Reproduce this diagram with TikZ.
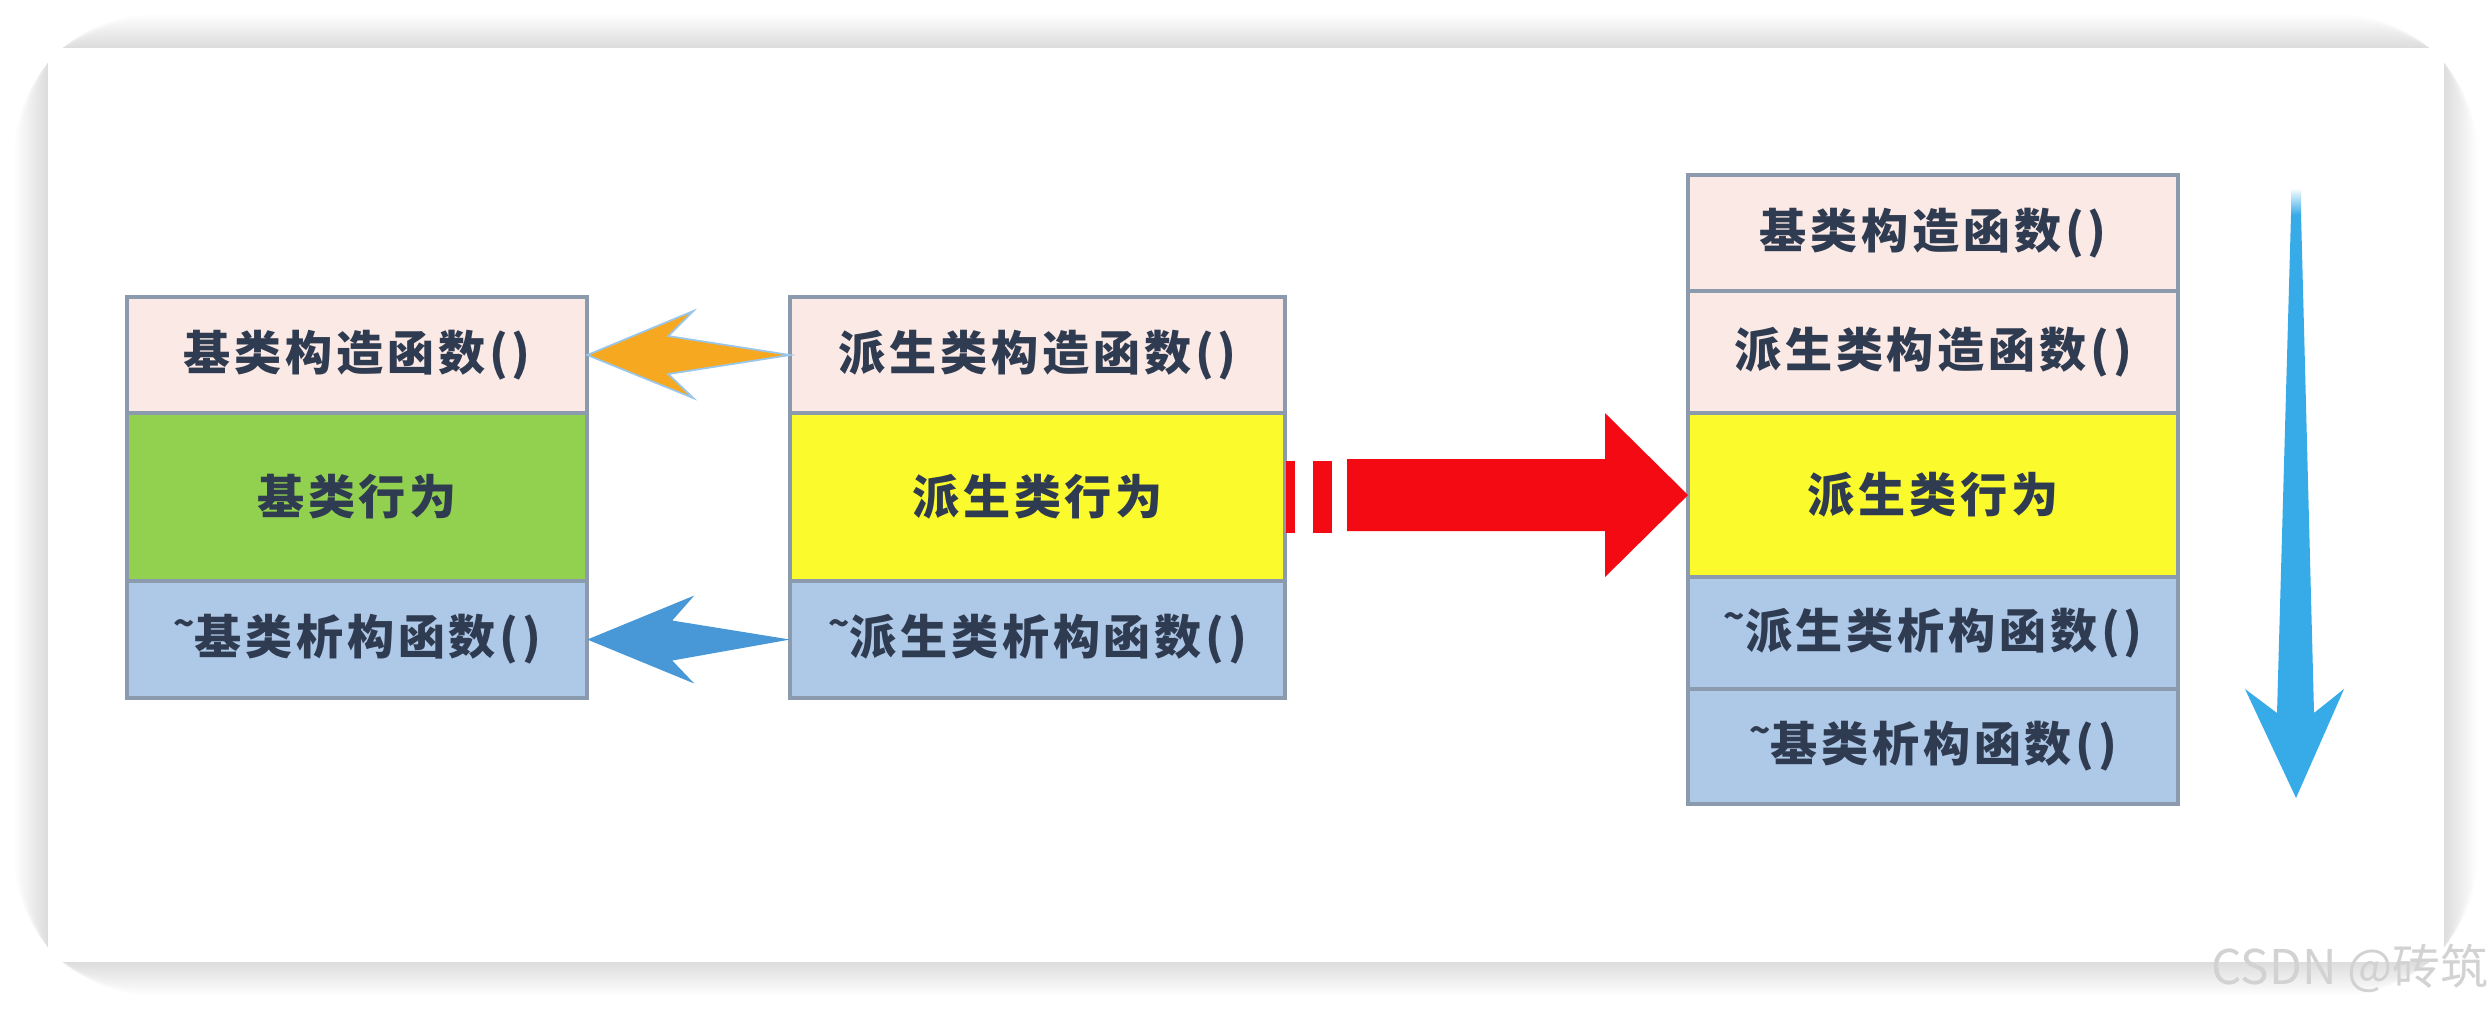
\documentclass[tikz,border=0pt]{standalone}
\usepackage{fontspec}
\setmainfont{Noto Sans CJK SC}
\newfontfamily\cellfont{Noto Sans CJK SC}[LetterSpace=8]
\usetikzlibrary{calc}
\definecolor{ctorpink}{HTML}{FBE9E5}
\definecolor{basegreen}{HTML}{92D050}
\definecolor{derivyellow}{HTML}{FAFA2C}
\definecolor{dtorblue}{HTML}{AEC8E8}
\definecolor{boxline}{HTML}{8C9AAE}
\definecolor{txtnavy}{HTML}{2F3B50}
\definecolor{arrorange}{HTML}{F6A820}
\definecolor{arrblue}{HTML}{4898D8}
\definecolor{arrred}{HTML}{F40A12}
\definecolor{downblue}{HTML}{36ABE8}
\newcommand{\tld}{\raisebox{.4em}{\fontsize{10}{10}\selectfont\textasciitilde}}

\begin{document}
\begin{tikzpicture}[
    x=0.01cm,y=-0.01cm,
    every node/.style={font=\cellfont\fontsize{13.4}{16}\selectfont\bfseries,text=txtnavy},
    cell/.style 2 args={draw=boxline,line width=1.1pt,inner sep=0pt,outer sep=0pt,
        anchor=north west,minimum width=#1,minimum height=#2}]
    \def\xl{127}
    \def\xm{790}
    \def\xr{1688}

    \useasboundingbox (0,0) rectangle (2492,1012);
    \fill[white] (0,0) rectangle (2492,1012);
    \foreach \s in {1,...,34} {
        \fill[black,opacity=0.0022,rounded corners=\s pt+6pt] (48-\s,48-\s) rectangle (2444+\s,962+\s);
    }
    \fill[white] (48,48) rectangle (2444,962);

    \node[cell={4.6cm}{1.16cm},fill=ctorpink] (bctor) at (\xl,297) {基类构造函数()};
    \node[cell={4.6cm}{1.68cm},fill=basegreen] (bact) at (\xl,413) {基类行为};
    \node[cell={4.6cm}{1.17cm},fill=dtorblue] (bdtor) at (\xl,581) {\tld 基类析构函数()};

    \node[cell={4.95cm}{1.16cm},fill=ctorpink] (dctor) at (\xm,297) {派生类构造函数()};
    \node[cell={4.95cm}{1.68cm},fill=derivyellow] (dact) at (\xm,413) {派生类行为};
    \node[cell={4.95cm}{1.17cm},fill=dtorblue] (ddtor) at (\xm,581) {\tld 派生类析构函数()};

    \node[cell={4.9cm}{1.16cm},fill=ctorpink] (rbctor) at (\xr,175) {基类构造函数()};
    \node[cell={4.9cm}{1.22cm},fill=ctorpink] (rdctor) at (\xr,291) {派生类构造函数()};
    \node[cell={4.9cm}{1.64cm},fill=derivyellow] (ract) at (\xr,413) {派生类行为};
    \node[cell={4.9cm}{1.12cm},fill=dtorblue] (rddtor) at (\xr,577) {\tld 派生类析构函数()};
    \node[cell={4.9cm}{1.15cm},fill=dtorblue] (rbdtor) at (\xr,689) {\tld 基类析构函数()};

    \fill[arrorange,draw=arrblue!55,line width=0.5pt]
        (bctor.east) -- ++(106,-44) -- ++(-25,25) -- (dctor.west)
        -- ($(bctor.east)+(81,19)$) -- ++(25,24) -- cycle;
    \fill[arrblue]
        (bdtor.east) -- ++(107,-44) -- ++(-22,25) -- (ddtor.west)
        -- ($(bdtor.east)+(85,21)$) -- ++(22,23) -- cycle;

    \fill[arrred] ($(dact.east)+(1,-36)$) rectangle ++(9,72);
    \fill[arrred] ($(dact.east)+(28,-36)$) rectangle ++(19,72);
    \fill[arrred]
        (ract.west) -- ++(-83,-82) -- ++(0,46) -- ++(-258,0)
        -- ++(0,72) -- ++(258,0) -- ++(0,46) -- cycle;

    \coordinate (dtop) at (2296,188);
    \coordinate (dtip) at (2296,798);
    \fill[downblue]
        ($(dtop)+(-5,26)$) -- ($(dtop)+(5,26)$) -- (2314,713) -- (2344,689)
        -- (dtip) -- (2245,689) -- (2277,713) -- cycle;
    \shade[top color=white,bottom color=downblue]
        ($(dtop)+(-5,0)$) -- ($(dtop)+(5,0)$) -- ($(dtop)+(5,27)$) -- ($(dtop)+(-5,27)$) -- cycle;

    \node[font=\fontsize{13.6}{14}\selectfont,text=gray!35] (mark) at (2350,968) {CSDN @砖筑};
\end{tikzpicture}
\end{document}
